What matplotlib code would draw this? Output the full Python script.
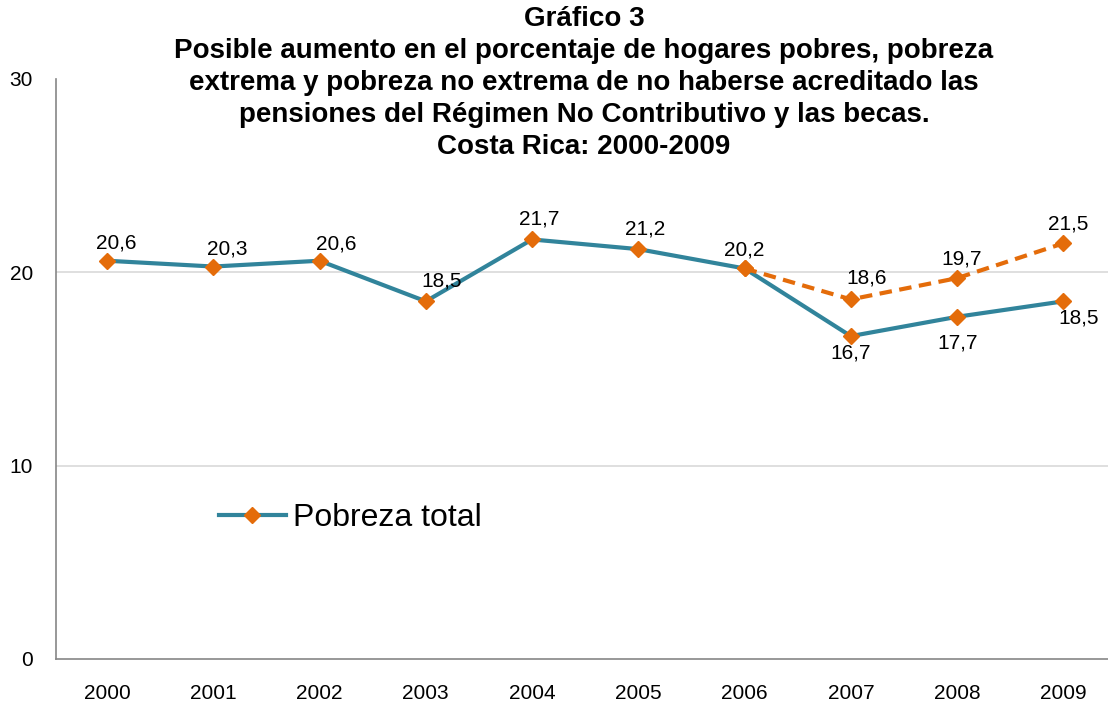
import numpy as np
import matplotlib
matplotlib.use("Agg")
from matplotlib import pyplot as plt

plt.rcParams['font.family'] = ['Liberation Sans', 'DejaVu Sans']

years = ['2000', '2001', '2002', '2003', '2004', '2005', '2006', '2007', '2008', '2009']
pobreza_total = [20.6, 20.3, 20.6, 18.5, 21.7, 21.2, 20.2, 16.7, 17.7, 18.5]
sin_pensiones_years = ['2006', '2007', '2008', '2009']
sin_pensiones = [20.2, 18.6, 19.7, 21.5]
yticks = [0, 10, 20, 30]

# label offsets in pixels (hand placed like the original)
off_total = [(9, 18), (14, 18), (17, 17), (16, 20), (7, 20), (7, 20), (0, 18),
             (0, -17), (1, -26), (15, -17)]
off_sin = [None, (16, 21), (5, 19), (5, 19)]

TEAL = '#31849B'
ORANGE = '#E46C0A'

fig = plt.figure(figsize=(11.08, 7.04), dpi=100)
ax = fig.add_axes([56/1108, 1-659/704, 1-56/1108, (659-79)/704])

x = np.arange(len(years))
x2 = np.array([years.index(y) for y in sin_pensiones_years])

ax.plot(x, pobreza_total, color=TEAL, lw=3, marker='D', ms=8.5,
        mfc=ORANGE, mec=ORANGE, label='Pobreza total', zorder=3)
ax.plot(x2, sin_pensiones, color=ORANGE, lw=3, ls=(0, (3, 1.8)), marker='D', ms=8.5,
        mfc=ORANGE, mec=ORANGE, zorder=4)

def fmt(v):
    return ('%.1f' % v).replace('.', ',')

for xi, v, o in zip(x, pobreza_total, off_total):
    ax.annotate(fmt(v), (xi, v), xytext=o, textcoords='offset pixels',
                ha='center', va='center', fontsize=15)
for xi, v, o in zip(x2, sin_pensiones, off_sin):
    if o is None:
        continue
    ax.annotate(fmt(v), (xi, v), xytext=o, textcoords='offset pixels',
                ha='center', va='center', fontsize=15)

ax.set_xlim(-0.48, 9.42)
ax.set_ylim(0, 30)
ax.set_xticks(x)
ax.set_xticklabels(years)
ax.set_yticks(yticks)
ax.tick_params(length=0, labelsize=15)
ax.tick_params(axis='x', pad=18)
ax.tick_params(axis='y', pad=16.5)
for yv in [10, 20]:
    ax.axhline(yv, color='#D9D9D9', lw=1.2, zorder=1)
for s in ['top', 'right']:
    ax.spines[s].set_visible(False)
for s in ['left', 'bottom']:
    ax.spines[s].set_color('#868686')
    ax.spines[s].set_linewidth(1.2)

ax.legend(loc='center left', bbox_to_anchor=(150/1052, 1-(518-79)/580),
          frameon=False, fontsize=23, handlelength=2.1, handletextpad=0.22,
          borderaxespad=0)

fig.text(584/1108, 1-6/704,
         'Gráfico 3\nPosible aumento en el porcentaje de hogares pobres, pobreza\n'
         'extrema y pobreza no extrema de no haberse acreditado las\n'
         'pensiones del Régimen No Contributivo y las becas.\nCosta Rica: 2000-2009',
         ha='center', va='top', fontsize=20, fontweight='bold', linespacing=1.3)

fig.savefig('out.png', dpi=100)
